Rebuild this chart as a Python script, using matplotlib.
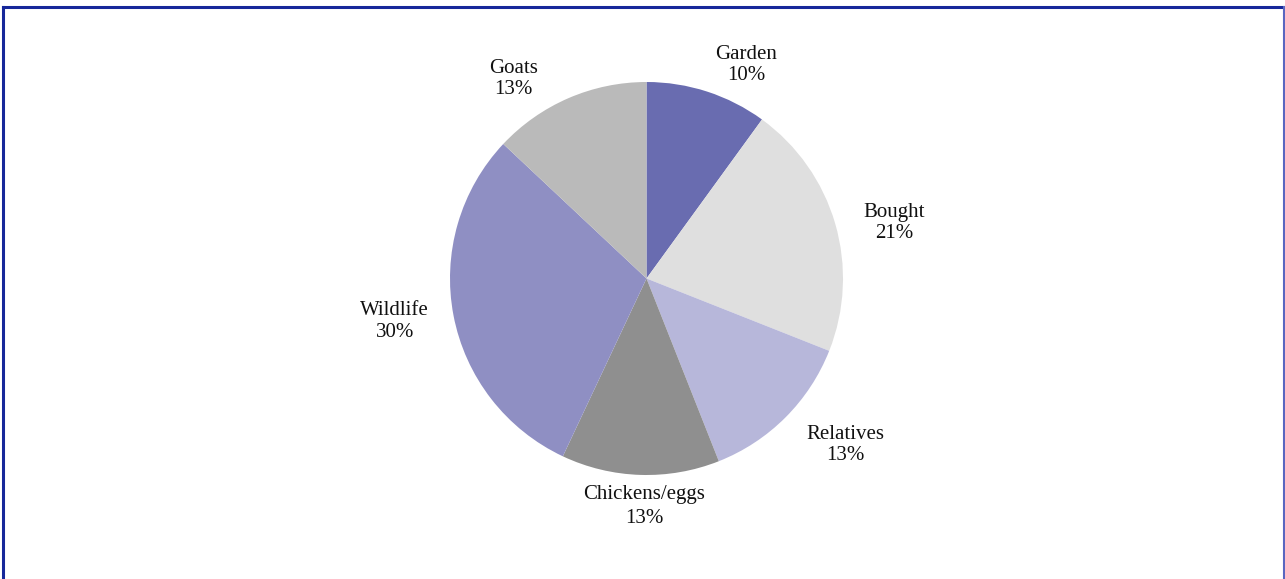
import numpy as np
import matplotlib.pyplot as plt
from matplotlib.lines import Line2D

# food sources, clockwise from 12 o'clock
sources = ['Garden', 'Bought', 'Relatives', 'Chickens/eggs', 'Wildlife', 'Goats']
shares = [10, 21, 13, 13, 30, 13]
colors = ['#696cb0', '#dfdfdf', '#b7b7da', '#8f8f8f', '#8f8fc3', '#bababa']

# label placement (polar, relative to pie centre): angle in degrees, distance in radii
label_angle = [65, 12.7, -39.9, -90.5, -170.3, 123.7]
label_dist = [1.20, 1.29, 1.32, 1.16, 1.30, 1.22]

W, H = 1285, 579
fig = plt.figure(figsize=(W / 100, H / 100), dpi=100)
ax = fig.add_axes([0, 0, 1, 1])

cx, cy, r = 646.5, H - 278.5, 196.5
ax.pie(shares, colors=colors, startangle=90, counterclock=False,
       center=(cx, cy), radius=r, wedgeprops=dict(linewidth=0))
ax.set_xlim(0, W)
ax.set_ylim(0, H)
ax.set_aspect('equal')
ax.axis('off')

for name, val, a, d in zip(sources, shares, label_angle, label_dist):
    t = np.deg2rad(a)
    sp = 1.3 if name == 'Chickens/eggs' else 1.15
    ax.text(cx + d * r * np.cos(t), cy + d * r * np.sin(t), f'{name}\n{val}%',
            ha='center', va='center', fontsize=15, family='Liberation Serif',
            linespacing=sp, color='#111111')

# chart frame
blue = '#16279a'
fig.add_artist(Line2D([3 / W, 1 - 1.5 / W], [1 - 6.5 / H, 1 - 6.5 / H], color=blue, lw=2.2))
fig.add_artist(Line2D([3 / W, 3 / W], [0, 1 - 6.5 / H], color=blue, lw=2.2))
fig.add_artist(Line2D([1 - 1.5 / W, 1 - 1.5 / W], [0, 1 - 6.5 / H], color='#5a66c0', lw=1.5))

fig.savefig('out.png', dpi=100)
